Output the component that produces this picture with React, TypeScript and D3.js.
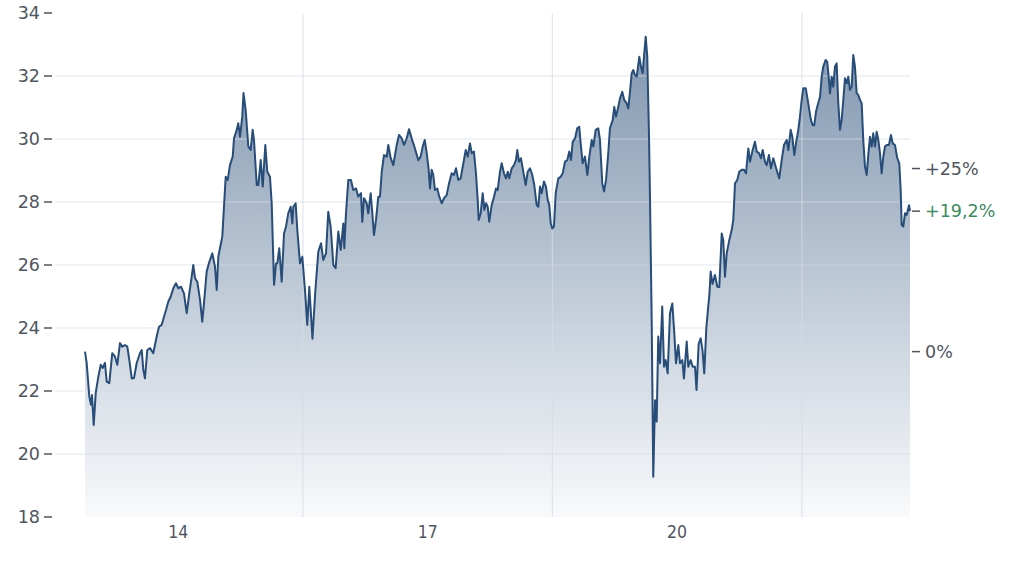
import React from "react";
import * as d3 from "d3";

// Price series: [fractional year, price]
const dates: number[] = [
  2012.880, 2012.900, 2012.932, 2012.952, 2012.964, 2012.985, 2013.009, 2013.040, 2013.069, 2013.093,
  2013.120, 2013.141, 2013.172, 2013.208, 2013.241, 2013.268, 2013.301, 2013.328, 2013.361, 2013.389,
  2013.413, 2013.442, 2013.469, 2013.502, 2013.541, 2013.562, 2013.581, 2013.601, 2013.629, 2013.662,
  2013.701, 2013.742, 2013.770, 2013.802, 2013.830, 2013.854, 2013.882, 2013.910, 2013.942, 2013.974,
  2014.002, 2014.034, 2014.070, 2014.103, 2014.134, 2014.163, 2014.182, 2014.203, 2014.230, 2014.263,
  2014.290, 2014.314, 2014.343, 2014.375, 2014.411, 2014.443, 2014.464, 2014.483, 2014.503, 2014.531,
  2014.551, 2014.572, 2014.596, 2014.623, 2014.656, 2014.672, 2014.704, 2014.723, 2014.744, 2014.771,
  2014.786, 2014.812, 2014.844, 2014.872, 2014.896, 2014.912, 2014.945, 2014.964, 2014.993, 2015.017,
  2015.048, 2015.072, 2015.104, 2015.125, 2015.153, 2015.177, 2015.192, 2015.216, 2015.245, 2015.273,
  2015.297, 2015.324, 2015.353, 2015.373, 2015.385, 2015.413, 2015.433, 2015.465, 2015.493, 2015.525,
  2015.553, 2015.577, 2015.615, 2015.649, 2015.685, 2015.718, 2015.745, 2015.778, 2015.805, 2015.834,
  2015.866, 2015.894, 2015.926, 2015.955, 2015.986, 2015.998, 2016.018, 2016.046, 2016.078, 2016.106,
  2016.139, 2016.166, 2016.199, 2016.214, 2016.235, 2016.267, 2016.286, 2016.315, 2016.335, 2016.355,
  2016.379, 2016.407, 2016.427, 2016.448, 2016.475, 2016.508, 2016.527, 2016.556, 2016.587, 2016.628,
  2016.656, 2016.688, 2016.716, 2016.748, 2016.776, 2016.808, 2016.840, 2016.888, 2016.916, 2016.941,
  2016.965, 2016.989, 2017.013, 2017.028, 2017.049, 2017.068, 2017.088, 2017.116, 2017.140, 2017.169,
  2017.197, 2017.229, 2017.257, 2017.289, 2017.317, 2017.341, 2017.369, 2017.397, 2017.422, 2017.458,
  2017.482, 2017.509, 2017.530, 2017.557, 2017.581, 2017.602, 2017.614, 2017.638, 2017.662, 2017.681,
  2017.702, 2017.722, 2017.741, 2017.770, 2017.798, 2017.822, 2017.842, 2017.870, 2017.890, 2017.918,
  2017.942, 2017.963, 2017.982, 2018.011, 2018.038, 2018.062, 2018.078, 2018.098, 2018.122, 2018.150,
  2018.179, 2018.203, 2018.231, 2018.258, 2018.282, 2018.311, 2018.331, 2018.351, 2018.371, 2018.399,
  2018.423, 2018.444, 2018.463, 2018.480, 2018.499, 2018.519, 2018.540, 2018.571, 2018.600, 2018.624,
  2018.652, 2018.679, 2018.703, 2018.724, 2018.744, 2018.772, 2018.799, 2018.823, 2018.840, 2018.864,
  2018.892, 2018.920, 2018.944, 2018.973, 2018.992, 2019.021, 2019.052, 2019.072, 2019.100, 2019.121,
  2019.145, 2019.172, 2019.192, 2019.225, 2019.244, 2019.265, 2019.292, 2019.313, 2019.340, 2019.364,
  2019.393, 2019.413, 2019.433, 2019.454, 2019.473, 2019.493, 2019.514, 2019.545, 2019.565, 2019.586,
  2019.601, 2019.622, 2019.641, 2019.662, 2019.674, 2019.694, 2019.713, 2019.734, 2019.754, 2019.773,
  2019.794, 2019.821, 2019.842, 2019.862, 2019.886, 2019.914, 2019.942, 2019.966, 2019.986, 2020.014,
  2020.034, 2020.062, 2020.082, 2020.115, 2020.134, 2020.163, 2020.187, 2020.215, 2020.233, 2020.259,
  2020.283, 2020.305, 2020.326, 2020.351, 2020.371, 2020.389, 2020.403, 2020.425, 2020.455, 2020.483,
  2020.507, 2020.536, 2020.555, 2020.575, 2020.596, 2020.627, 2020.656, 2020.675, 2020.696, 2020.723,
  2020.747, 2020.776, 2020.804, 2020.828, 2020.856, 2020.876, 2020.908, 2020.936, 2020.957, 2020.984,
  2021.008, 2021.029, 2021.056, 2021.077, 2021.104, 2021.128, 2021.156, 2021.185, 2021.209, 2021.228,
  2021.257, 2021.285, 2021.317, 2021.337, 2021.365, 2021.385, 2021.409, 2021.429, 2021.457, 2021.477,
  2021.498, 2021.517, 2021.546, 2021.570, 2021.589, 2021.609, 2021.630, 2021.649, 2021.670, 2021.690,
  2021.718, 2021.738, 2021.757, 2021.786, 2021.805, 2021.826, 2021.838, 2021.858, 2021.877, 2021.898,
  2021.918, 2021.938, 2021.958, 2021.978, 2021.998, 2022.018, 2022.039, 2022.058, 2022.078, 2022.099,
  2022.118, 2022.138, 2022.159, 2022.178, 2022.199, 2022.219, 2022.238, 2022.259, 2022.279, 2022.298,
  2022.319, 2022.339, 2022.358, 2022.379, 2022.399, 2022.419, 2022.439, 2022.459, 2022.479, 2022.499,
  2022.520, 2022.547, 2022.571, 2022.592, 2022.619, 2022.647, 2022.671, 2022.688, 2022.700, 2022.719,
  2022.740, 2022.760, 2022.788, 2022.800,
];

const prices: number[] = [
  23.25, 22.89, 21.82, 21.56, 21.87, 20.92, 21.94, 22.45, 22.83, 22.73,
  22.89, 22.30, 22.25, 23.20, 23.09, 22.83, 23.52, 23.41, 23.46, 23.41,
  22.98, 22.40, 22.41, 22.89, 23.20, 23.30, 22.67, 22.40, 23.30, 23.36,
  23.20, 23.73, 24.04, 24.10, 24.36, 24.57, 24.84, 24.99, 25.26, 25.42,
  25.26, 25.31, 25.10, 24.47, 25.10, 25.63, 26.00, 25.58, 25.47, 24.89,
  24.20, 24.89, 25.79, 26.10, 26.37, 25.95, 25.21, 26.26, 26.53, 26.90,
  27.85, 28.80, 28.70, 29.17, 29.44, 30.02, 30.29, 30.50, 30.07, 30.71,
  31.46, 30.92, 29.76, 29.65, 30.29, 29.97, 28.54, 28.54, 29.33, 28.49,
  29.81, 28.96, 28.80, 27.96, 25.37, 26.05, 26.05, 26.53, 25.47, 27.00,
  27.22, 27.64, 27.85, 27.32, 27.85, 27.96, 27.11, 26.05, 26.26, 25.21,
  24.10, 25.31, 23.66, 25.15, 26.42, 26.69, 26.16, 26.37, 27.69, 27.22,
  26.00, 25.90, 27.06, 26.48, 27.32, 26.53, 27.64, 28.70, 28.70, 28.38,
  28.43, 28.17, 28.28, 27.37, 28.12, 27.96, 27.64, 28.28, 27.64, 26.95,
  27.43, 28.17, 28.17, 28.96, 29.49, 29.44, 29.81, 29.39, 29.17, 29.81,
  30.13, 30.02, 29.81, 30.02, 30.31, 30.02, 29.76, 29.33, 29.44, 29.76,
  29.97, 29.55, 29.02, 28.43, 29.02, 28.86, 28.38, 28.43, 28.17, 27.96,
  28.12, 28.22, 28.59, 28.91, 28.86, 29.07, 28.70, 28.75, 29.12, 29.65,
  29.44, 29.86, 29.55, 29.60, 28.91, 28.06, 27.43, 27.64, 28.28, 27.75,
  27.96, 27.85, 27.37, 27.90, 28.17, 28.43, 28.38, 28.96, 29.23, 28.91,
  28.75, 28.96, 28.75, 29.07, 29.17, 29.33, 29.65, 29.28, 29.39, 28.96,
  28.54, 28.96, 29.07, 28.86, 28.54, 27.90, 27.85, 28.49, 28.28, 28.65,
  28.49, 28.06, 27.90, 27.32, 27.16, 27.22, 28.28, 28.75, 28.80, 28.91,
  29.28, 29.33, 29.60, 29.33, 29.91, 30.02, 30.34, 30.39, 29.86, 29.23,
  29.44, 28.86, 29.44, 29.97, 29.76, 30.29, 30.34, 29.97, 28.59, 28.33,
  28.70, 29.55, 30.34, 30.60, 31.02, 30.71, 31.02, 31.29, 31.50, 31.24,
  31.13, 30.97, 31.50, 32.09, 32.19, 32.03, 31.98, 32.61, 32.30, 32.09,
  32.61, 33.25, 32.61, 30.07, 28.06, 24.25, 19.28, 21.71, 21.03, 23.73,
  22.88, 24.68, 22.77, 22.98, 22.56, 24.47, 24.78, 23.83, 22.88, 23.46,
  22.88, 22.98, 22.40, 23.57, 22.77, 22.98, 22.77, 22.77, 22.03, 23.50,
  23.67, 23.30, 22.56, 24.00, 24.60, 25.10, 25.79, 25.40, 25.68, 25.31,
  25.30, 27.00, 26.79, 25.63, 26.37, 26.79, 27.11, 27.43, 28.59, 28.70,
  28.96, 29.02, 29.02, 28.91, 29.70, 29.28, 29.65, 29.91, 29.60, 29.55,
  29.39, 29.65, 29.28, 29.17, 29.49, 29.07, 29.39, 29.12, 28.91, 28.75,
  29.33, 29.81, 29.97, 29.65, 30.29, 30.07, 29.49, 29.86, 30.29, 30.71,
  31.24, 31.61, 31.61, 31.24, 30.92, 30.60, 30.44, 30.44, 30.87, 31.08,
  31.34, 31.98, 32.30, 32.51, 32.45, 31.87, 31.45, 31.98, 31.66, 32.30,
  32.40, 31.13, 30.29, 30.60, 31.24, 31.93, 31.77, 31.98, 31.56, 31.66,
  32.67, 32.30, 31.45, 31.40, 31.24, 31.13, 29.97, 29.12, 28.86, 29.49,
  30.07, 29.76, 30.18, 29.76, 30.23, 29.97, 29.55, 28.91, 29.44, 29.76,
  29.81, 29.81, 30.13, 29.86, 29.81, 29.39, 29.23, 28.38, 27.27, 27.22,
  27.64, 27.59, 27.90, 27.71,
];

const yTicks: number[] = [18, 20, 22, 24, 26, 28, 30, 32, 34];
const yGridValues: number[] = [20, 22, 24, 26, 28, 30, 32];
const xTickYears: number[] = [2014, 2017, 2020];
const xTickLabels: string[] = ["14", "17", "20"];
const xGridYears: number[] = [2015.5, 2018.5, 2021.5];
const pctTicks: number[] = [0, 0.25];
const pctTickLabels: string[] = ["0%", "+25%"];
const lastChangeLabel = "+19,2%";

const W = 1024;
const H = 579;
const plot = { left: 85, right: 910, top: 13, bottom: 517, gridLeft: 55 };

export default function App() {
  const data = dates.map((d, i) => ({ t: d, v: prices[i] }));
  const x = d3.scaleLinear().domain([dates[0], dates[dates.length - 1]]).range([plot.left, plot.right]);
  const y = d3.scaleLinear().domain([18, 34]).range([plot.bottom, plot.top]);

  const line = d3
    .line<{ t: number; v: number }>()
    .x((d) => x(d.t))
    .y((d) => y(d.v));
  const area = d3
    .area<{ t: number; v: number }>()
    .x((d) => x(d.t))
    .y0(plot.bottom)
    .y1((d) => y(d.v));

  const base = prices[0];
  const last = prices[prices.length - 1];
  const textColor = "#50555e";
  const gridColor = "#e1e5eb";
  const lineColor = "#284d78";
  const font = "'DejaVu Sans', Verdana, sans-serif";
  const fs = 17.5;

  return (
    <svg
      width={W}
      height={H}
      style={{ position: "absolute", left: 0, top: 0, background: "#fff" }}
    >
      <defs>
        <linearGradient id="areaGrad" gradientUnits="userSpaceOnUse" x1="0" y1={plot.top} x2="0" y2={plot.bottom}>
          <stop offset="0" stopColor={lineColor} stopOpacity={0.62} />
          <stop offset="1" stopColor={lineColor} stopOpacity={0.03} />
        </linearGradient>
      </defs>

      <path d={area(data) || ""} fill="url(#areaGrad)" />

      {yGridValues.map((v) => (
        <line key={"hg" + v} x1={plot.gridLeft} x2={plot.right} y1={y(v)} y2={y(v)} stroke="#d4dbe5" strokeOpacity={0.7} strokeWidth={1.2} />
      ))}
      {xGridYears.map((t) => (
        <line key={"vg" + t} x1={x(t)} x2={x(t)} y1={plot.top} y2={plot.bottom} stroke="#d4dbe5" strokeOpacity={0.7} strokeWidth={1.2} />
      ))}

      <path d={line(data) || ""} fill="none" stroke={lineColor} strokeWidth={2} strokeLinejoin="round" />

      {yTicks.map((v) => (
        <g key={"yt" + v}>
          <text x={40} y={y(v)} dy="0.36em" textAnchor="end" fontFamily={font} fontSize={fs} fill={textColor}>
            {v}
          </text>
          <line x1={44} x2={52} y1={y(v)} y2={y(v)} stroke={textColor} strokeWidth={1.5} />
        </g>
      ))}

      {xTickYears.map((t, i) => (
        <text
          key={"xt" + t}
          x={x(t)}
          y={538}
          textAnchor="middle"
          fontFamily="'DejaVu Sans Condensed', 'DejaVu Sans', sans-serif"
          fontStretch="condensed"
          fontSize={17.5}
          fill={textColor}
        >
          {xTickLabels[i]}
        </text>
      ))}

      {pctTicks.map((p, i) => (
        <g key={"pt" + p}>
          <line x1={912} x2={920} y1={y(base * (1 + p))} y2={y(base * (1 + p))} stroke={textColor} strokeWidth={1.5} />
          <text x={925} y={y(base * (1 + p))} dy="0.36em" fontFamily={font} fontSize={fs} fill={textColor}>
            {pctTickLabels[i]}
          </text>
        </g>
      ))}
      <line x1={912} x2={920} y1={y(last)} y2={y(last)} stroke={textColor} strokeWidth={1.5} />
      <text x={925} y={y(last)} dy="0.36em" fontFamily={font} fontSize={fs} fill="#3d8a62">
        {lastChangeLabel}
      </text>
    </svg>
  );
}
